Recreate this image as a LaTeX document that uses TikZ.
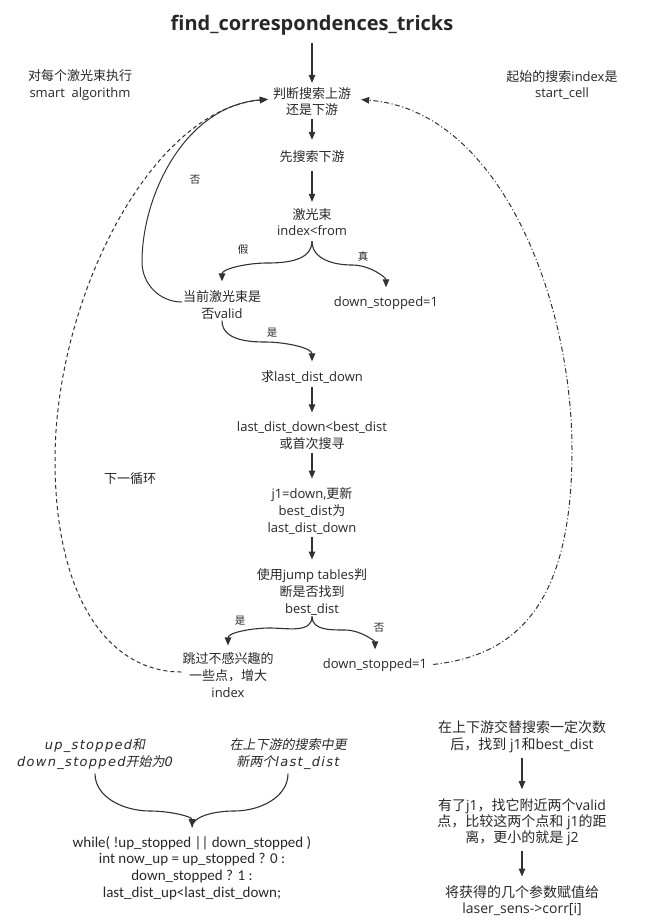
\documentclass[tikz,border=0pt]{standalone}
\usepackage{fontspec}
\setmainfont{Open Sans}
\newfontfamily\zhfont{Noto Sans CJK SC}
\newfontfamily\zhitfont[FakeSlant=0.2]{Noto Sans CJK SC}
\newfontfamily\latitfont[LetterSpace=10]{DejaVu Sans Oblique}
\newfontfamily\codefont{Carlito}
\newcommand\zh[1]{{\zhfont #1}}
\newcommand\zi[1]{{\zhitfont #1}}
\newcommand\li[1]{{\latitfont #1}}
\usetikzlibrary{arrows.meta}
\definecolor{tc}{RGB}{40,40,40}
\definecolor{lc}{RGB}{50,50,50}
\tikzset{
  every node/.style={text=tc, font=\fontsize{13}{16.8}\selectfont, align=center, inner sep=1pt},
  arr/.style={draw=lc, line width=1.1pt, -{Triangle[length=8pt,width=6.5pt]}},
  lbl/.style={font=\fontsize{10.5}{12}\selectfont},
  dashloop/.style={draw=lc, line width=1pt, dash pattern=on 4pt off 3pt, -{Triangle[length=8pt,width=6.5pt]}},
  dotloop/.style={draw=lc, line width=1pt, dash pattern=on 5pt off 2.5pt on 1pt off 2.5pt, -{Triangle[length=8pt,width=6.5pt]}},
}
\begin{document}
\begin{tikzpicture}[x=1pt,y=1pt]
\fill[white] (0,0) rectangle (646,-921);
\useasboundingbox (0,0) rectangle (646,-921);

% nodes
\node[font=\fontsize{20}{23}\selectfont\bfseries] (title) at (312,-25) {find\_correspondences\_tricks};
\node (noteL) at (80,-85) {\zh{对每个激光束执行}\\smart\ \ algorithm};
\node (noteR) at (562,-85) {\zh{起始的搜索}index\zh{是}\\start\_cell};
\node (A) at (312,-101.5) {\zh{判断搜索上游}\\\zh{还是下游}};
\node (B) at (312,-157) {\zh{先搜索下游}};
\node (C) at (312,-222) {\zh{激光束}\\index<from};
\node (D) at (222,-305) {\zh{当前激光束是}\\\zh{否}valid};
\node (E) at (386,-303) {down\_stopped=1};
\node (F) at (312,-377) {\zh{求}last\_dist\_down};
\node (G) at (312,-435.5) {last\_dist\_down<best\_dist\\\zh{或首次搜寻}};
\node (H) at (312,-511) {j1=down,\zh{更新}\\best\_dist\zh{为}\\last\_dist\_down};
\node (I) at (312,-592) {\zh{使用}jump tables\zh{判}\\\zh{断是否找到}\\best\_dist};
\node (J) at (228,-675) {\zh{跳过不感兴趣的}\\\zh{一些点，增大}\\index};
\node (K) at (375,-665) {down\_stopped=1};
\node (loop) at (130,-479) {\zh{下一循环}};

\node[lbl] (n1) at (195,-180) {\zh{否}};
\node[lbl] (n2) at (243,-250) {\zh{假}};
\node[lbl] (n3) at (363,-256) {\zh{真}};
\node[lbl] (n4) at (272,-333) {\zh{是}};
\node[lbl] (n5) at (240,-621) {\zh{是}};
\node[lbl] (n6) at (379,-628) {\zh{否}};

\node (BL1) at (95,-754) {\li{up\_stopped}\zi{和}\\\li{down\_stopped}\zi{开始为}\li{0}};
\node (BL2) at (288,-754) {\zi{在上下游的搜索中更}\\\zi{新两个}\li{last\_dist}};
\node[font=\codefont\fontsize{15}{16.6}\selectfont] (W) at (192,-868) {while( !up\_stopped || down\_stopped )\\int now\_up = up\_stopped ? 0 :\\down\_stopped ? 1 :\\last\_dist\_up<last\_dist\_down;};

\node[font=\fontsize{14}{17}\selectfont] (R1) at (522,-736.5) {\zh{在上下游交替搜索一定次数}\\\zh{后，找到} j1\zh{和}best\_dist};
\node[font=\fontsize{14}{16}\selectfont] (R2) at (522,-822) {\zh{有了}j1\zh{，找它附近两个}valid\\\zh{点，比较这两个点和} j1\zh{的距}\\\zh{离，更小的就是} j2};
\node[font=\fontsize{14}{15.5}\selectfont] (R3) at (522,-900.5) {\zh{将获得的几个参数赋值给}\\laser\_sens->corr[i]};

% straight arrows
\draw[arr, shorten <=7pt, shorten >=3pt] (title.south) -- (A.north);
\draw[arr, shorten <=2pt, shorten >=10pt] (A.south) -- (B.north);
\draw[arr, shorten <=7pt, shorten >=5pt] (B.south) -- (C.north);
\draw[arr, shorten <=2pt, shorten >=8pt] (F.south) -- (G.north);
\draw[arr, shorten <=2pt, shorten >=8pt] (G.south) -- (H.north);
\draw[arr, shorten <=2pt, shorten >=8pt] (H.south) -- (I.north);
\draw[arr, shorten <=4pt, shorten >=8pt] (R1.south) -- (R2.north);
\draw[arr, shorten <=4pt, shorten >=8pt] (R2.south) -- (R3.north);

% branches
\draw[arr, shorten >=8pt] ([yshift=-4pt]C.south) to[out=-90,in=0] (267,-263) to[out=180,in=90] (D.north);
\draw[arr, shorten >=8pt] ([yshift=-4pt]C.south) to[out=-90,in=180] (352,-265) to[out=0,in=90] (E.north);
\draw[arr, shorten >=8pt] (D.south) to[out=-90,in=180] (265,-342) to[out=0,in=90] (F.north);
\draw[arr, shorten >=6pt] (I.south) to[out=-90,in=0] (270,-628) to[out=180,in=90] (J.north);
\draw[arr, shorten >=8pt] (I.south) to[out=-90,in=180] (345,-630) to[out=0,in=90] (K.north);

% loops
\draw[arr, line width=1pt, shorten >=4pt] ([yshift=3pt]D.west) to[out=180,in=-90] (142,-262) .. controls (142,-195) and (185,-106) .. ([yshift=2.5pt]A.west);
\draw[dashloop, shorten >=4pt] ([yshift=3pt]J.west) .. controls (110,-672) and (55,-600) .. (55,-460) .. controls (55,-300) and (150,-110) .. ([yshift=2.5pt]A.west);
\draw[dotloop, shorten <=5pt, shorten >=9pt] (K.east) .. controls (520,-655) and (572,-600) .. (572,-450) .. controls (572,-300) and (500,-110) .. ([yshift=2.5pt]A.east);

% bottom brace
\draw[arr, shorten <=3pt, shorten >=8pt] (BL1.south) to[out=-90,in=180] (150,-811) to[out=0,in=90] (W.north);
\draw[draw=lc, line width=1.1pt, shorten <=3pt, shorten >=8pt] (BL2.south) to[out=-90,in=0] (234,-811) to[out=180,in=90] (W.north);
\end{tikzpicture}
\end{document}
